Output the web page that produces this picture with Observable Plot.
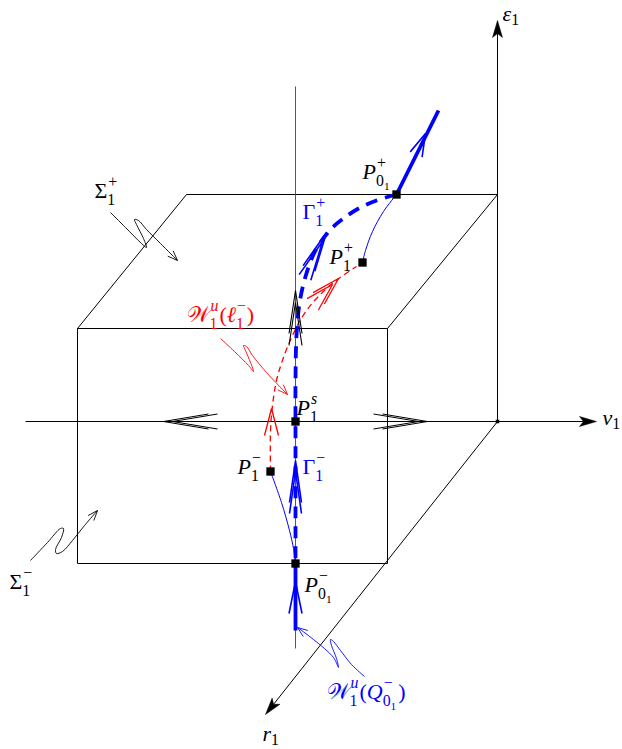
<!DOCTYPE html>
<html><head><meta charset="utf-8">
<script src="https://cdn.jsdelivr.net/npm/d3@7"></script>
<script src="https://cdn.jsdelivr.net/npm/@observablehq/plot@0.6"></script>
<style>html,body{margin:0;padding:0;background:#fff}svg{display:block}</style>
</head><body><div id="chart"></div>
<script>
const BLUE = "#0000ff", RED = "#ff0000", INK = "#000000";

// ---- data (picture coordinates) ----
const boxEdges = [
  [77,328,387,328],[387,328,387,563],[387,563,77,563],[77,563,77,328],
  [77,328,186,194],[186,194,497,194],[497,194,387,328]
];
const axes = [
  {tail:[25,421],  tip:[596,421]},
  {tail:[497,421], tip:[497,20]},
  {tail:[497,421], tip:[265,714]}
];
const centerLine = [[295,86],[295,648]];
const fixedPoints = [[396,194],[362,262],[295,421],[270,471],[295,563]];
const originDot = [[497,421]];
const gammaCurve = [[396,194],[376,200],[358,208],[343,218],[331,228],[315,250],[305,276],[299,303],[296,335],[295,380],[295,421],[295,470],[295,520],[295,563]];
const strongUnstable = [[[396,194],[438,110]],[[295,563],[295,630]]];
const thinBlue = [
  [[396,194],[383,211],[372,231],[365,250],[362,262]],
  [[270,471],[281,502],[289,530],[293,548],[295,563]]
];
const redCurve = [[270,471],[270,430],[272,405],[276,380],[283,357],[292,335],[302,316],[315,299],[333,282],[356,266]];

const chevBlackV = [{x:295,y:290,a:-90},{x:295,y:302,a:-90}];
const chevBlackH = [{x:163,y:421,a:180},{x:172,y:421,a:180},{x:427,y:421,a:0},{x:418,y:421,a:0}];
const chevBlueTop = [{x:425,y:133,a:-66}];
const chevBlueGp = [{x:326,y:232,a:-64},{x:322,y:241,a:-64}];
const chevBlueGm = [{x:295,y:460,a:-90},{x:295,y:471,a:-90}];
const chevBlueLow = [{x:295,y:581,a:-90}];
const chevRedUp = [{x:338,y:278,a:-45},{x:332,y:284,a:-45}];
const chevRedLow = [{x:271,y:408,a:-90}];

const squiggles = [
  {color:INK, pts:[[110,212],[125,227],[141,243],[146,247],[143,238],[136,224],[134,219],[138,220],[146,229],[160,243],[177,260]]},
  {color:INK, pts:[[30,560],[47,542],[60,528],[63,528],[61,537],[55,549],[56,553],[62,551],[72,540],[84,525],[97,510]]},
  {color:RED, pts:[[220,338],[234,351],[248,365],[253,371],[250,362],[245,350],[243,345],[246,346],[252,355],[266,372],[287,394]]},
  {color:BLUE, pts:[[364,676],[351,664],[340,650],[333,641],[330,639],[331,645],[336,658],[338,667],[333,657],[313,639],[297,627]]}
];

const labels = [
  {x:362, y:178, tex:"P_{0_1}^+", color:INK},
  {x:329, y:263, tex:"P_1^+", color:INK},
  {x:302, y:218, tex:"Γ_1^+", color:BLUE},
  {x:296, y:414, tex:"P_1^s", color:INK},
  {x:237, y:473, tex:"P_1^−", color:INK},
  {x:302, y:473, tex:"Γ_1^−", color:BLUE},
  {x:304, y:591, tex:"P_{0_1}^−", color:INK},
  {x:326, y:698, tex:"𝒲_1^u(Q_{0_1}^−)", color:BLUE},
  {x:186, y:321, tex:"𝒲_1^u(ℓ_1^−)", color:RED},
  {x:94,  y:197, tex:"Σ_1^+", color:INK},
  {x:9,   y:588, tex:"Σ_1^−", color:INK},
  {x:502, y:20,  tex:"ε_1", color:INK},
  {x:602, y:424, tex:"v_1", color:INK},
  {x:262, y:740, tex:"r_1", color:INK}
];

// ---- geometry helpers ----
function chevron(c, len, half) {
  const a = c.a * Math.PI / 180, ux = Math.cos(a), uy = Math.sin(a);
  const bx = c.x - ux * len, by = c.y - uy * len, px = -uy, py = ux;
  return [[bx + px*half, by + py*half], [c.x, c.y], [bx - px*half, by - py*half]];
}
function filledHead(tip, ux, uy, len, half, notch) {
  const bx = tip[0] - ux*len, by = tip[1] - uy*len, px = -uy, py = ux;
  return [[tip[0],tip[1]], [bx+px*half, by+py*half], [tip[0]-ux*notch, tip[1]-uy*notch], [bx-px*half, by-py*half], [tip[0],tip[1]]];
}
function rows(polys, extra = {}) {
  return polys.flatMap((p, i) => p.map(([x, y]) => ({x, y, id: i, ...extra})));
}
function chevRows(list, len, half) { return rows(list.map(c => chevron(c, len, half))); }

const axisHeads = [], axisLines = [];
axes.forEach(({tail, tip}) => {
  const dx = tip[0]-tail[0], dy = tip[1]-tail[1], L = Math.hypot(dx, dy), ux = dx/L, uy = dy/L;
  axisHeads.push(filledHead(tip, ux, uy, 17, 5, 13));
  axisLines.push([tail, [tip[0]-ux*13, tip[1]-uy*13]]);
});
const smallHeads = squiggles.map(s => {
  const n = s.pts.length, t = s.pts[n-1], p = s.pts[n-2];
  const a = Math.atan2(t[1]-p[1], t[0]-p[0]) * 180 / Math.PI;
  return {color: s.color, pts: chevron({x:t[0], y:t[1], a}, 10, 3.8)};
});

const lineOpts = (extra) => ({x:"x", y:"y", z:"id", strokeLinecap:"butt", strokeLinejoin:"miter", ...extra});

const plot = Plot.plot({
  width: 622, height: 749, margin: 0,
  x: {domain:[0,622], range:[0,622], axis:null},
  y: {domain:[0,749], range:[0,749], axis:null},
  style: {background:"#fff"},
  marks: [
    Plot.link(boxEdges, {x1:d=>d[0], y1:d=>d[1], x2:d=>d[2], y2:d=>d[3], stroke:INK, strokeWidth:1}),
    Plot.line(rows(axisLines), lineOpts({stroke:INK, strokeWidth:1})),
    Plot.line(rows(axisHeads), lineOpts({stroke:INK, fill:INK, strokeWidth:0.5})),
    Plot.line(rows([centerLine]), lineOpts({stroke:"#444", strokeWidth:0.9})),
    Plot.dot(originDot, {x:d=>d[0], y:d=>d[1], symbol:"square", r:2, fill:INK}),
    Plot.line(rows(thinBlue), lineOpts({stroke:BLUE, strokeWidth:1, curve:"catmull-rom"})),
    Plot.line(rows([redCurve]), lineOpts({stroke:RED, strokeWidth:1.3, strokeDasharray:"6,4", curve:"catmull-rom"})),
    Plot.line(rows([gammaCurve]), lineOpts({stroke:BLUE, strokeWidth:3.8, strokeDasharray:"12,8", curve:"catmull-rom"})),
    Plot.line(rows(strongUnstable), lineOpts({stroke:BLUE, strokeWidth:3.8})),
    Plot.line(chevRows(chevBlackV, 43, 6.5), lineOpts({stroke:INK, strokeWidth:1.1})),
    Plot.line(chevRows(chevBlackH, 45, 7.5), lineOpts({stroke:INK, strokeWidth:1.0})),
    Plot.line(chevRows(chevBlueTop, 23, 6.5), lineOpts({stroke:BLUE, strokeWidth:1.6})),
    Plot.line(chevRows(chevBlueGp, 40, 6.5), lineOpts({stroke:BLUE, strokeWidth:1.6})),
    Plot.line(chevRows(chevBlueGm, 42, 6), lineOpts({stroke:BLUE, strokeWidth:1.6})),
    Plot.line(chevRows(chevBlueLow, 32, 6.5), lineOpts({stroke:BLUE, strokeWidth:1.6})),
    Plot.line(chevRows(chevRedUp, 28, 8), lineOpts({stroke:RED, strokeWidth:1.3})),
    Plot.line(chevRows(chevRedLow, 27, 7), lineOpts({stroke:RED, strokeWidth:1.3})),
    ...squiggles.map(s => Plot.line(rows([s.pts]), lineOpts({stroke:s.color, strokeWidth:0.9, curve:"catmull-rom", strokeLinejoin:"round"}))),
    ...smallHeads.map(h => Plot.line(rows([h.pts]), lineOpts({stroke:h.color, strokeWidth:0.9}))),
    Plot.dot(fixedPoints, {x:d=>d[0], y:d=>d[1], symbol:"square", r:4.7, fill:INK}),
    Plot.text(labels, {x:"x", y:"y", text:"tex", fill:"color", textAnchor:"start", lineAnchor:"bottom",
      fontSize:22, fontFamily:"'Liberation Serif', 'DejaVu Serif', serif"})
  ]
});
document.getElementById("chart").appendChild(plot);

// ---- TeX-like sub/superscript layout with tspans ----
function texify(textEl, src, size) {
  const ch = Array.from(src); let i = 0;
  function group() {
    const items = [];
    while (i < ch.length && ch[i] !== "}") {
      let base;
      if (ch[i] === "{") { i++; base = group(); i++; } else base = ch[i++];
      const it = {base, sub:null, sup:null};
      while (ch[i] === "_" || ch[i] === "^") {
        const k = ch[i] === "_" ? "sub" : "sup"; i++;
        let arg;
        if (ch[i] === "{") { i++; arg = group(); i++; } else arg = [{base: ch[i++], sub:null, sup:null}];
        it[k] = arg;
      }
      items.push(it);
    }
    return items;
  }
  const tree = group();
  while (textEl.firstChild) textEl.removeChild(textEl.firstChild);
  textEl.removeAttribute("dy");
  const ns = "http://www.w3.org/2000/svg";
  let cur = 0, pend = 0;
  function emit(c, sz, shift) {
    const t = document.createElementNS(ns, "tspan");
    t.textContent = c;
    t.setAttribute("font-size", sz);
    t.setAttribute("font-style", /[A-Za-zεℓ]/.test(c) ? "italic" : "normal");
    if (shift - cur) t.setAttribute("dy", shift - cur);
    cur = shift;
    if (pend) { t.setAttribute("dx", pend); pend = 0; }
    textEl.appendChild(t);
    let w = 0; try { w = t.getComputedTextLength(); } catch (e) {}
    return w || sz * 0.5;
  }
  function render(items, sz, shift) {
    let w = 0;
    for (const it of items) {
      w += typeof it.base === "string" ? emit(it.base, sz, shift) : render(it.base, sz, shift);
      const s2 = sz * 0.72;
      let supW = 0, subW = 0;
      if (it.sup) { pend += 1; supW = render(it.sup, s2, shift - sz * 0.46) + 1; }
      if (it.sub) {
        if (it.sup) pend -= supW;
        subW = render(it.sub, s2, shift + sz * (it.sup ? 0.36 : 0.22));
        if (it.sup && supW > subW) pend += supW - subW;
      }
      w += Math.max(supW, subW);
      if (it.sup || it.sub) pend += 1;
    }
    return w;
  }
  render(tree, size, 0);
}
plot.querySelectorAll("g[aria-label='text'] text").forEach(t => texify(t, t.textContent, 22));
</script>
</body></html>
